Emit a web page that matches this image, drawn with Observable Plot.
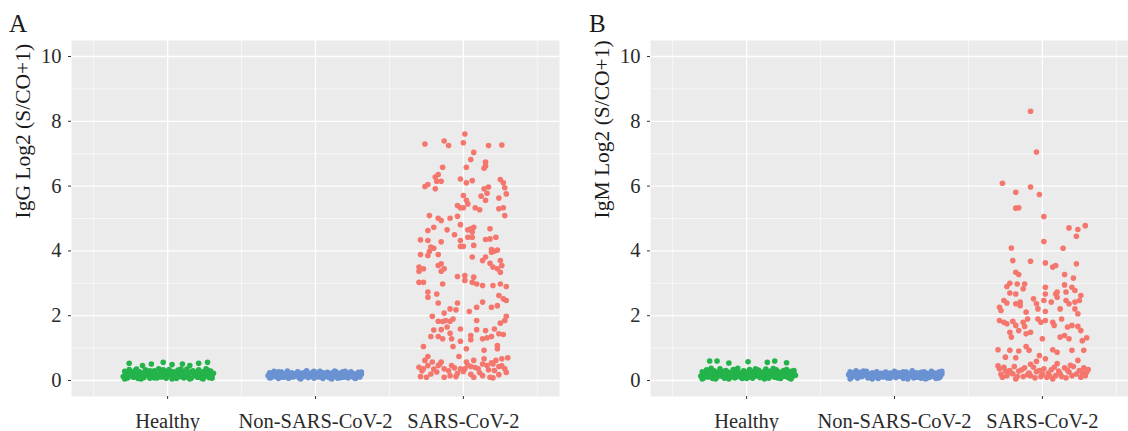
<!DOCTYPE html>
<html>
<head>
<meta charset="utf-8">
<script src="https://cdn.jsdelivr.net/npm/d3@7"></script>
<script src="https://cdn.jsdelivr.net/npm/@observablehq/plot@0.6"></script>
<style>
  html, body { margin: 0; padding: 0; background: #fff; }
  #root { position: relative; width: 1128px; height: 431px; overflow: hidden; background: #fff; }
  .panel { position: absolute; top: 0; width: 579px; height: 431px; }
  .panel svg { max-width: none !important; }
  .letter { position: absolute; top: 11px; font-family: 'Liberation Serif', 'Times New Roman', serif; font-size: 25px; line-height: 25px; color: #1a1a1a; }
</style>
</head>
<body>
<div id="root">
  <div class="panel" id="pa" style="left:0px"></div>
  <div class="panel" id="pb" style="left:579px"></div>
  <div class="letter" style="left:9px">A</div>
  <div class="letter" style="left:589px">B</div>
</div>
<script>
// Categories and tick values
const categories = ["Healthy", "Non-SARS-CoV-2", "SARS-CoV-2"];
const colors = ["#23B34A", "#6A92D2", "#F4766D"];
const yTicks = [0, 2, 4, 6, 8, 10];
const yMinor = [1, 3, 5, 7, 9];
const xMinor = [0.5, 1.5, 2.5, 3.5];
const yLabelA = "IgG Log2 (S/CO+1)";
const yLabelB = "IgM Log2 (S/CO+1)";

// Each point: [horizontal jitter within its category, log2 value]
const healthyIgG = [[-0.30,0.12],[-0.29,0.28],[-0.28,0.20],[-0.27,0.08],[-0.26,0.53],[-0.26,0.34],[-0.25,0.16],[-0.24,0.25],[-0.23,0.10],[-0.22,0.31],[-0.21,0.19],[-0.20,0.06],[-0.19,0.27],[-0.18,0.14],[-0.17,0.46],[-0.17,0.22],[-0.16,0.09],[-0.15,0.33],[-0.14,0.17],[-0.13,0.26],[-0.12,0.07],[-0.11,0.51],[-0.11,0.21],[-0.10,0.13],[-0.09,0.30],[-0.08,0.18],[-0.07,0.08],[-0.06,0.36],[-0.05,0.24],[-0.04,0.11],[-0.03,0.56],[-0.03,0.20],[-0.02,0.29],[-0.01,0.07],[0.00,0.15],[0.01,0.34],[0.02,0.23],[0.03,0.49],[0.03,0.10],[0.04,0.27],[0.05,0.17],[0.06,0.06],[0.07,0.32],[0.08,0.21],[0.09,0.12],[0.10,0.51],[0.10,0.28],[0.11,0.08],[0.12,0.19],[0.13,0.35],[0.14,0.14],[0.15,0.46],[0.15,0.24],[0.16,0.07],[0.17,0.30],[0.18,0.16],[0.19,0.22],[0.20,0.10],[0.21,0.53],[0.21,0.33],[0.22,0.18],[0.23,0.07],[0.24,0.27],[0.25,0.13],[0.26,0.36],[0.27,0.56],[0.27,0.20],[0.28,0.09],[0.29,0.29],[0.30,0.15],[0.31,0.22],
  [-0.29,0.05],[-0.27,0.22],[-0.24,0.13],[-0.21,0.35],[-0.18,0.05],[-0.15,0.20],[-0.12,0.30],[-0.09,0.08],[-0.06,0.19],[-0.03,0.33],[0.00,0.26],[0.03,0.05],[0.06,0.22],[0.09,0.35],[0.12,0.11],[0.15,0.05],[0.18,0.27],[0.21,0.12],[0.24,0.05],[0.27,0.32],[0.30,0.07]];

const nonIgG = [[-0.32,0.15],[-0.31,0.24],[-0.30,0.09],[-0.29,0.19],[-0.28,0.28],[-0.27,0.12],[-0.26,0.21],[-0.25,0.06],[-0.24,0.16],[-0.23,0.26],[-0.22,0.10],[-0.21,0.20],[-0.20,0.14],[-0.19,0.29],[-0.18,0.07],[-0.17,0.18],[-0.16,0.24],[-0.15,0.11],[-0.14,0.20],[-0.13,0.15],[-0.12,0.27],[-0.11,0.08],[-0.10,0.19],[-0.09,0.23],[-0.08,0.12],[-0.07,0.17],[-0.06,0.30],[-0.05,0.09],[-0.04,0.21],[-0.03,0.14],[-0.02,0.25],[-0.01,0.07],[0.00,0.18],[0.01,0.22],[0.02,0.11],[0.03,0.28],[0.04,0.16],[0.05,0.06],[0.06,0.20],[0.07,0.13],[0.08,0.25],[0.09,0.09],[0.10,0.18],[0.11,0.23],[0.12,0.12],[0.13,0.29],[0.14,0.16],[0.15,0.07],[0.16,0.21],[0.17,0.14],[0.18,0.26],[0.19,0.10],[0.20,0.19],[0.21,0.24],[0.22,0.08],[0.23,0.17],[0.24,0.27],[0.25,0.13],[0.26,0.21],[0.27,0.06],[0.28,0.16],[0.29,0.25],[0.30,0.11],[0.31,0.19],
  [-0.31,0.08],[-0.28,0.18],[-0.25,0.27],[-0.22,0.16],[-0.19,0.09],[-0.16,0.14],[-0.13,0.22],[-0.10,0.05],[-0.07,0.25],[-0.04,0.12],[-0.01,0.28],[0.02,0.20],[0.05,0.24],[0.08,0.15],[0.11,0.05],[0.14,0.26],[0.17,0.09],[0.20,0.28],[0.23,0.12],[0.26,0.09],[0.29,0.15],[0.31,0.26]];

const sarsIgG = [[0.01,7.61],[-0.26,7.30],[-0.13,7.39],[-0.10,7.25],[0.00,7.34],[0.17,7.25],[0.26,7.27],[0.07,7.04],[0.05,6.82],[0.02,6.58],[-0.14,6.58],[0.15,6.74],[0.15,6.62],[0.14,6.55],[-0.17,6.36],[-0.19,6.28],[-0.18,6.15],[-0.15,6.15],[-0.02,6.22],[0.02,6.10],[0.06,6.17],[0.25,6.20],[0.27,6.10],[-0.24,6.05],[-0.26,5.99],[-0.19,5.92],[0.28,5.95],[0.17,5.97],[0.14,5.92],[0.16,5.78],[0.29,5.76],[0.00,5.71],[0.12,5.69],[0.02,5.56],[0.15,5.56],[0.03,5.45],[-0.04,5.40],[-0.02,5.33],[0.00,5.33],[0.08,5.33],[0.11,5.27],[0.24,5.63],[0.27,5.33],[0.24,5.30],[0.28,5.09],[-0.23,5.09],[-0.17,5.01],[-0.15,4.94],[-0.09,5.01],[-0.04,5.07],[-0.20,4.73],[-0.11,4.65],[-0.02,4.81],[0.03,4.65],[0.05,4.68],[0.07,4.73],[0.06,4.58],[0.18,4.68],[-0.24,4.63],[-0.06,4.50],[-0.29,4.34],[-0.24,4.32],[-0.15,4.28],[-0.02,4.32],[0.03,4.42],[0.06,4.42],[0.15,4.35],[0.18,4.37],[0.22,4.42],[-0.22,4.12],[-0.20,4.08],[-0.02,4.14],[0.00,4.14],[0.07,4.17],[0.19,4.04],[0.23,4.03],
  [-0.29,3.89],[-0.24,3.86],[-0.23,3.98],[-0.17,3.89],[0.06,3.81],[0.15,3.81],[0.19,3.96],[0.21,3.99],[0.13,3.70],[0.18,3.62],[0.25,3.70],[-0.30,3.50],[-0.27,3.45],[-0.30,3.37],[-0.17,3.55],[-0.15,3.60],[-0.15,3.37],[-0.13,3.45],[-0.04,3.21],[0.01,3.24],[0.01,3.09],[0.07,3.19],[0.20,3.50],[0.23,3.45],[0.26,3.55],[0.25,3.34],[-0.30,3.03],[-0.27,3.03],[-0.14,2.98],[0.06,3.03],[0.09,2.98],[0.13,2.93],[0.20,2.93],[0.25,2.98],[0.29,2.90],[-0.24,2.73],[-0.24,2.57],[-0.18,2.67],[-0.17,2.39],[-0.04,2.39],[-0.09,2.21],[-0.05,2.18],[0.04,2.13],[0.09,2.26],[0.13,2.42],[0.19,2.26],[0.24,2.62],[0.27,2.52],[0.29,2.47],[0.23,2.31],[-0.13,2.08],[-0.21,1.98],[-0.17,1.83],[-0.14,1.82],[-0.12,1.85],[-0.09,1.83],[-0.07,1.90],[-0.02,1.59],[-0.15,1.57],[-0.11,1.65],[-0.20,1.56],[-0.22,1.36],[-0.17,1.36],[-0.14,1.29],[-0.09,1.46],[-0.08,1.29],[-0.02,1.21],[0.05,1.39],[0.05,1.26],[0.09,1.85],[0.09,1.57],[0.15,1.54],[0.13,1.29],[0.16,1.32],[0.19,1.36],[0.21,1.59],[0.25,1.77],[0.28,1.85],[0.29,1.98],[0.24,1.44],[0.27,1.42],[-0.27,1.05],[-0.07,1.05],[0.02,0.98],[0.14,0.93],[0.23,1.08],[0.23,0.98],[0.30,0.70],[-0.24,0.74],[-0.26,0.62],[-0.30,0.41],[-0.27,0.36],[-0.24,0.46],[-0.21,0.57],[-0.17,0.46],[-0.15,0.57],[-0.13,0.36],[-0.08,0.46],[-0.06,0.39],[-0.03,0.74],[0.02,0.57],[-0.02,0.36],[0.01,0.36],[0.05,0.43],[0.07,0.62],[0.10,0.36],[0.13,0.51],[0.14,0.67],[0.16,0.46],[0.20,0.51],[0.22,0.62],[0.24,0.43],[0.28,0.36],[0.26,0.67],[-0.29,0.12],[-0.25,0.10],[-0.18,0.26],[-0.13,0.10],[-0.09,0.15],[-0.05,0.12],[0.05,0.19],[0.07,0.10],[0.13,0.15],[0.18,0.10],[0.21,0.31],[0.20,0.08],
  [-0.28,0.30],[-0.20,0.35],[-0.10,0.30],[0.00,0.28],[0.08,0.40],[0.17,0.33],[0.26,0.45],[-0.22,0.20],[-0.04,0.22],[0.11,0.24],[0.24,0.18],[0.29,0.25],[-0.16,0.50],[0.03,0.48],[0.19,0.55]];

const healthyIgM = [[-0.31,0.14],[-0.30,0.27],[-0.29,0.08],[-0.28,0.20],[-0.27,0.33],[-0.26,0.11],[-0.25,0.60],[-0.25,0.24],[-0.24,0.16],[-0.23,0.06],[-0.22,0.30],[-0.21,0.19],[-0.20,0.60],[-0.20,0.10],[-0.19,0.26],[-0.18,0.36],[-0.17,0.14],[-0.16,0.22],[-0.15,0.07],[-0.14,0.31],[-0.13,0.18],[-0.12,0.54],[-0.12,0.25],[-0.11,0.11],[-0.10,0.20],[-0.09,0.34],[-0.08,0.08],[-0.07,0.16],[-0.06,0.28],[-0.05,0.12],[-0.04,0.22],[-0.03,0.06],[-0.02,0.30],[-0.01,0.17],[0.00,0.25],[0.01,0.58],[0.01,0.10],[0.02,0.34],[0.03,0.19],[0.04,0.07],[0.05,0.27],[0.06,0.14],[0.07,0.22],[0.08,0.32],[0.09,0.09],[0.10,0.18],[0.11,0.26],[0.12,0.12],[0.13,0.35],[0.14,0.56],[0.14,0.20],[0.15,0.07],[0.16,0.29],[0.17,0.15],[0.18,0.23],[0.19,0.60],[0.19,0.10],[0.20,0.33],[0.21,0.18],[0.22,0.26],[0.23,0.06],[0.24,0.21],[0.25,0.31],[0.26,0.13],[0.27,0.55],[0.27,0.24],[0.28,0.09],[0.29,0.18],[0.30,0.28],[0.31,0.12],[0.32,0.22],[0.33,0.16],
  [-0.30,0.05],[-0.27,0.17],[-0.24,0.38],[-0.21,0.05],[-0.18,0.20],[-0.15,0.28],[-0.12,0.05],[-0.09,0.22],[-0.06,0.38],[-0.03,0.14],[0.00,0.06],[0.03,0.28],[0.06,0.36],[0.09,0.20],[0.12,0.05],[0.15,0.24],[0.18,0.37],[0.21,0.08],[0.24,0.14],[0.27,0.34],[0.30,0.05],[0.32,0.31]];

const nonIgM = [[-0.31,0.18],[-0.30,0.27],[-0.29,0.10],[-0.28,0.22],[-0.27,0.14],[-0.26,0.30],[-0.25,0.07],[-0.24,0.19],[-0.23,0.25],[-0.22,0.12],[-0.21,0.21],[-0.20,0.16],[-0.19,0.28],[-0.18,0.08],[-0.17,0.20],[-0.16,0.13],[-0.15,0.24],[-0.14,0.10],[-0.13,0.18],[-0.12,0.27],[-0.11,0.06],[-0.10,0.15],[-0.09,0.22],[-0.08,0.11],[-0.07,0.19],[-0.06,0.26],[-0.05,0.08],[-0.04,0.16],[-0.03,0.23],[-0.02,0.12],[-0.01,0.20],[0.00,0.28],[0.01,0.09],[0.02,0.17],[0.03,0.24],[0.04,0.13],[0.05,0.21],[0.06,0.06],[0.07,0.18],[0.08,0.26],[0.09,0.11],[0.10,0.20],[0.11,0.15],[0.12,0.30],[0.13,0.08],[0.14,0.19],[0.15,0.24],[0.16,0.12],[0.17,0.21],[0.18,0.07],[0.19,0.17],[0.20,0.27],[0.21,0.13],[0.22,0.22],[0.23,0.09],[0.24,0.18],[0.25,0.28],[0.26,0.14],[0.27,0.23],[0.28,0.06],[0.29,0.19],[0.30,0.26],[0.31,0.12],[0.32,0.20],
  [-0.30,0.05],[-0.27,0.24],[-0.24,0.12],[-0.21,0.29],[-0.18,0.16],[-0.15,0.05],[-0.12,0.20],[-0.09,0.13],[-0.06,0.17],[-0.03,0.07],[0.00,0.21],[0.03,0.14],[0.06,0.27],[0.09,0.05],[0.12,0.17],[0.15,0.10],[0.18,0.25],[0.21,0.05],[0.24,0.11],[0.27,0.16],[0.30,0.08],[0.32,0.28]];

const sarsIgM = [[-0.08,8.31],[-0.04,7.05],[-0.27,6.09],[-0.08,5.97],[-0.18,5.81],[-0.02,5.74],[-0.18,5.32],[-0.16,5.33],[0.01,5.06],[0.18,4.71],[0.24,4.66],[0.29,4.78],[0.23,4.45],[0.01,4.29],[-0.21,4.09],[0.14,4.08],
  [-0.20,3.70],[-0.08,3.68],[0.02,3.63],[0.07,3.50],[0.09,3.55],[0.23,3.60],[-0.18,3.34],[-0.16,3.27],[0.15,3.27],[0.21,3.16],[-0.22,3.00],[-0.24,2.90],[-0.17,2.98],[-0.12,2.98],[-0.13,2.83],[0.02,2.88],[0.15,2.95],[0.20,2.88],[-0.22,2.70],[-0.18,2.67],[0.02,2.67],[0.09,2.67],[0.10,2.73],[0.16,2.73],[0.22,2.78],[0.26,2.62],[-0.06,2.52],[-0.04,2.37],[-0.26,2.47],[-0.24,2.39],[-0.18,2.37],[-0.15,2.42],[-0.15,2.31],[0.01,2.47],[0.06,2.42],[0.10,2.57],[0.16,2.47],[0.18,2.37],[0.22,2.42],[0.25,2.47],[-0.29,2.26],[-0.28,2.16],[-0.11,2.11],[-0.03,2.21],[0.02,2.13],[0.12,2.21],[0.22,2.21],[0.24,2.06],[-0.29,1.85],[-0.26,1.80],[-0.24,1.75],[-0.20,1.83],[-0.18,1.70],[-0.13,1.80],[-0.10,1.90],[-0.12,1.67],[-0.03,1.90],[-0.01,1.80],[0.02,1.85],[0.07,1.80],[0.08,1.70],[0.13,1.90],[0.17,1.65],[0.20,1.70],[0.24,1.67],[0.26,1.54],[-0.22,1.49],[-0.21,1.34],[-0.16,1.54],[-0.11,1.44],[-0.08,1.49],[0.00,1.29],[0.12,1.34],[0.15,1.39],[0.18,1.29],[0.27,1.23],[0.30,1.32],[-0.30,0.95],[-0.22,0.93],[-0.16,0.91],[-0.11,1.05],[-0.09,0.93],[-0.02,0.77],[0.07,0.95],[0.10,0.87],[0.20,0.93],[0.28,0.93],[-0.25,0.72],[-0.18,0.70],[0.02,0.67],[0.24,0.62],[-0.04,0.59],
  [-0.29,0.36],[-0.26,0.41],[-0.22,0.31],[-0.19,0.43],[-0.16,0.29],[-0.12,0.39],[-0.09,0.23],[-0.06,0.41],[-0.02,0.31],[0.01,0.36],[0.04,0.23],[0.08,0.41],[0.11,0.29],[0.15,0.39],[0.18,0.26],[0.21,0.43],[0.25,0.31],[0.28,0.39],[0.30,0.26],[-0.28,0.19],[-0.24,0.15],[-0.20,0.21],[-0.13,0.12],[-0.08,0.15],[-0.01,0.12],[0.03,0.10],[0.09,0.15],[0.13,0.12],[0.20,0.15],[0.26,0.10],[0.29,0.15],[-0.18,0.05],[0.07,0.05],
  [-0.25,0.30],[-0.14,0.33],[-0.04,0.27],[0.06,0.33],[0.17,0.32],[0.23,0.20],[-0.10,0.18],[0.00,0.20],[0.12,0.21],[-0.22,0.24],[0.27,0.23],[-0.17,0.12],[0.05,0.14],[0.16,0.08],[-0.05,0.08],[-0.27,0.10],[0.31,0.34],[-0.30,0.45],[0.19,0.47],[-0.08,0.50],[0.10,0.52]];

function panel(groups, ylabel) {
  const rows = groups.flatMap((pairs, i) =>
    pairs.map(([j, v]) => ({x: i + 1 + j, y: v, group: categories[i]})));
  return Plot.plot({
    width: 579, height: 431,
    marginLeft: 71, marginRight: 20, marginTop: 40, marginBottom: 35,
    style: {fontFamily: "'Liberation Serif', 'Times New Roman', serif", fontSize: "20.5px", color: "#333", background: "transparent", overflow: "visible", maxWidth: "none"},
    x: {domain: [0.35, 3.65]},
    y: {domain: [-0.494, 10.494]},
    color: {domain: categories, range: colors},
    marks: [
      Plot.frame({fill: "#EBEBEB", stroke: "none"}),
      Plot.gridY(yMinor, {stroke: "#fff", strokeOpacity: 1, strokeWidth: 0.6}),
      Plot.gridX(xMinor, {stroke: "#fff", strokeOpacity: 1, strokeWidth: 0.6}),
      Plot.gridY(yTicks, {stroke: "#fff", strokeOpacity: 1, strokeWidth: 1.3}),
      Plot.gridX([1, 2, 3], {stroke: "#fff", strokeOpacity: 1, strokeWidth: 1.3}),
      Plot.axisY(yTicks, {tickSize: 3, tickPadding: 7, label: null, stroke: "#333", fill: "#2b2b2b"}),
      Plot.axisX([1, 2, 3], {tickSize: 3, tickPadding: 14, tickFormat: d => categories[d - 1], label: null, stroke: "#333", fill: "#2b2b2b"}),
      Plot.dot(rows, {x: "x", y: "y", fill: "group", r: 2.8}),
      Plot.text([ylabel], {text: d => d, frameAnchor: "left", dx: -48, rotate: -90, fontSize: 21.5, fill: "#1a1a1a"})
    ]
  });
}

document.getElementById("pa").append(panel([healthyIgG, nonIgG, sarsIgG], yLabelA));
document.getElementById("pb").append(panel([healthyIgM, nonIgM, sarsIgM], yLabelB));
</script>
</body>
</html>
